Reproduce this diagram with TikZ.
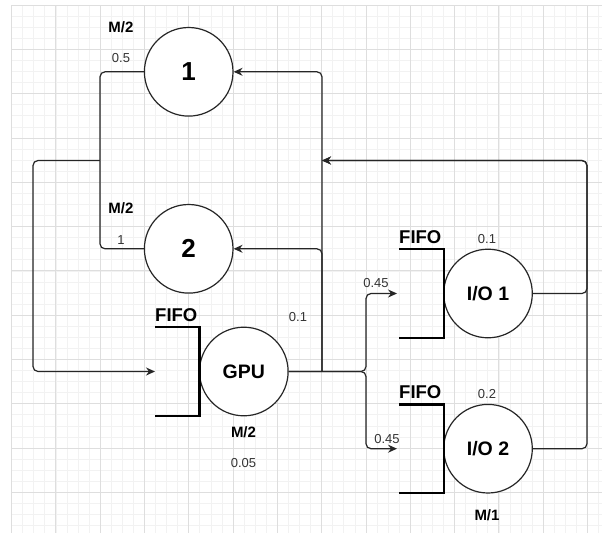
\documentclass[tikz,border=0pt]{standalone}
\usepackage{fontspec}
\setmainfont{Liberation Sans}
\usetikzlibrary{arrows.meta}
\tikzset{
  minorgrid/.style={draw=black!5,line width=0.6pt},
  majorgrid/.style={draw=black!13,line width=0.7pt},
  station/.style={circle,draw=black!85,line width=1.2pt,fill=white,minimum size=88.6pt,inner sep=0pt,font=\fontsize{19.5}{22}\selectfont\bfseries},
  bignum/.style={font=\fontsize{26}{28}\selectfont\bfseries},
  conn/.style={draw=black!85,line width=1.2pt,rounded corners=5pt},
  arr/.style={-{Stealth[length=9pt,width=8pt,inset=3pt]}},
  fifobox/.style={draw=black,line width=2.2pt},
  fifolab/.style={font=\fontsize{18.5}{21}\selectfont\bfseries,inner sep=0pt,anchor=base west},
  kind/.style={font=\fontsize{15}{17}\selectfont\bfseries,inner sep=0pt},
  prob/.style={font=\fontsize{13}{15}\selectfont,text=black!80,inner sep=0pt}
}
\begin{document}
\begin{tikzpicture}[x=1pt,y=-1pt]
\useasboundingbox (0,0) rectangle (602,533);
\fill[white] (0,0) rectangle (602,533);
% grid
\foreach \i in {0,...,53} {\draw[minorgrid] ({11.5+\i*11.075},5) -- ({11.5+\i*11.075},533);}
\foreach \j in {0,...,47} {\draw[minorgrid] (11.5,{5+\j*11.075}) -- (602,{5+\j*11.075});}
\foreach \i in {0,...,13} {\draw[majorgrid] ({11.5+\i*44.3},5) -- ({11.5+\i*44.3},533);}
\foreach \j in {0,...,11} {\draw[majorgrid] (11.5,{5+\j*44.3}) -- (602,{5+\j*44.3});}

% stations
\node[station,bignum] (c1) at (188.7,71.8) {1};
\node[station,bignum] (c2) at (188.7,248.8) {2};
\node[station] (gpu) at (243.8,371.5) {GPU};
\node[station] (io1) at (488,293.5) {I/O 1};
\node[station] (io2) at (488,448.7) {I/O 2};

% FIFO brackets
\draw[fifobox] (155,327.2) -- (199.5,327.2) -- (199.5,415.8) -- (155,415.8);
\node[fifolab] (f0) at (155,321) {FIFO};
\draw[fifobox] (399,249.2) -- (443.7,249.2) -- (443.7,337.8) -- (399,337.8);
\node[fifolab] (f1) at (399,243) {FIFO};
\draw[fifobox] (399,404.4) -- (443.7,404.4) -- (443.7,493) -- (399,493);
\node[fifolab] (f2) at (399,398) {FIFO};

% helper coordinates
\coordinate (vx) at (322,371.5);
\coordinate (sx) at (366,371.5);
\coordinate (io1in) at (397,293.5);
\coordinate (io2in) at (397,448.7);
\coordinate (back) at (322,160.5);
\coordinate (rx) at (587,160.5);
\coordinate (jl) at (100,160.5);
\coordinate (ll) at (33,160.5);
\coordinate (gpuin) at (155,371.5);

% connectors
\draw[conn,arr] (gpu.east) -| (io1in -| sx) -- (io1in);
\draw[conn,arr] (gpu.east) -| (io2in -| sx) -- (io2in);
\draw[conn,arr] (vx) |- (c1.east);
\draw[conn,arr] (vx) |- (c2.east);
\draw[conn,arr] (io1.east) -| (rx) -- (back);
\draw[conn,arr] (io2.east) -| (rx) -- (back);
\draw[conn] (c1.west) -| (jl);
\draw[conn] (c2.west) -| (jl);
\draw[conn,arr] (jl) -- (ll) |- (gpuin);

% labels
\node[kind] (k1) at (121,27) {M/2};
\node[prob] (p1) at (121,58) {0.5};
\node[kind] (k2) at (121,208) {M/2};
\node[prob] (p2) at (121,240) {1};
\node[prob] (p3) at (298,317) {0.1};
\node[kind] (k3) at (243.5,432) {M/2};
\node[prob] (p4) at (243.5,463) {0.05};
\node[prob] (p5) at (487,239) {0.1};
\node[prob] (p6) at (376,283) {0.45};
\node[prob] (p7) at (487,394) {0.2};
\node[prob] (p8) at (387,439) {0.45};
\node[kind] (k4) at (487,515) {M/1};
\end{tikzpicture}
\end{document}
